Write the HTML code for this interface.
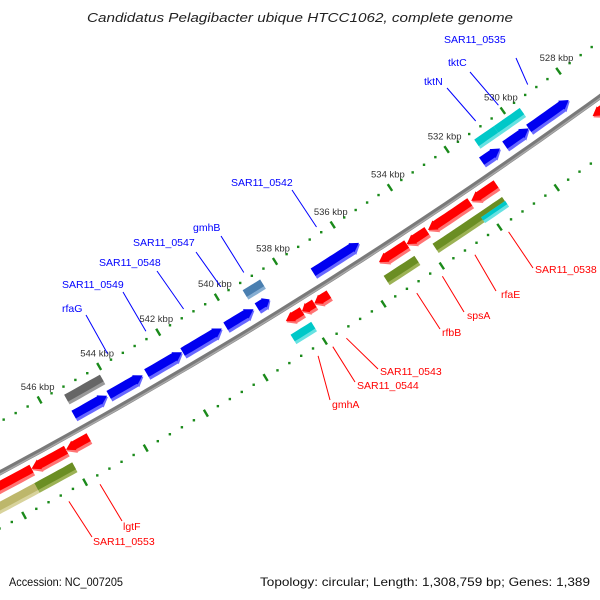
<!DOCTYPE html>
<html><head><meta charset="utf-8"><style>
html,body{margin:0;padding:0;background:#fff;}
svg{display:block;font-family:"Liberation Sans","DejaVu Sans",sans-serif;}
</style></head><body>
<svg id="map" width="600" height="600" viewBox="0 0 600 600">
<text x="300" y="22" text-anchor="middle" font-size="13" font-style="italic" fill="#222" textLength="426" lengthAdjust="spacingAndGlyphs">Candidatus Pelagibacter ubique HTCC1062, complete genome</text>
<text x="9" y="586" font-size="12" fill="#111" textLength="114" lengthAdjust="spacingAndGlyphs">Accession: NC_007205</text>
<text x="590" y="586" text-anchor="end" font-size="12" fill="#111" textLength="330" lengthAdjust="spacingAndGlyphs">Topology: circular; Length: 1,308,759 bp; Genes: 1,389</text>
<g id="g-track"></g><g id="g-genes"></g><g id="g-labels"></g>
</svg>
<script>
// ---- data ----
const tickKbp = [528,530,532,534,536,538,540,542,544,546];
const geneNames  = ["SAR11_0535","g0536","g0537","tktC","tktN","SAR11_0542","g0546","gmhB","SAR11_0547","SAR11_0548","SAR11_0549","rfaG","g0552b","g0552g",
  "g0534r","g0539r","rfaE","spsA","g0541r","SAR11_0543","SAR11_0544","g0545r","lgtF","g0555r","g0556r",
  "g0540o","SAR11_0538","rfbB","gmhA","SAR11_0553","g0554k"];
const geneStart  = [528.25,529.68,530.70,529.55,530.48,535.64,538.72,538.65,539.27,540.35,541.70,543.03,544.22,544.10,
  526.00,531.38,532.30,533.80,534.50,537.18,537.68,538.10,545.28,546.03,547.17,
  531.45,531.44,534.50,538.04,546.05,547.30];
const geneEnd    = [529.68,530.53,531.35,530.48,531.17,537.23,539.15,539.25,540.22,541.68,542.90,544.17,545.34,545.30,
  527.96,532.25,533.76,534.50,535.46,537.68,538.10,538.65,546.03,547.17,549.50,
  533.87,532.28,535.56,538.74,547.30,549.50];
const geneStrand = [1,1,1,1,1,1,1,1,1,1,1,1,1,1, -1,-1,-1,-1,-1,-1,-1,-1,-1,-1,-1, -1,-1,-1,-1,-1,-1];
const geneRow    = [0,0,0,1,1,0,0,1,0,0,0,0,0,1, 0,0,0,0,0,0,0,0,0,0,0, 1,2,1,1,1,1];
const geneKind   = ["blue","blue","blue","cyan","cyan","blue","blue","steel","blue","blue","blue","blue","blue","grey",
  "red","red","red","red","red","red","red","red","red","red","red",
  "olive","cyan","olive","cyan","olive","khaki"];
const labelGenes = ["SAR11_0535","tktC","tktN","SAR11_0542","gmhB","SAR11_0547","SAR11_0548","SAR11_0549","rfaG",
  "SAR11_0538","rfaE","spsA","rfbB","SAR11_0543","SAR11_0544","gmhA","lgtF","SAR11_0553"];
const labelText = ["SAR11_0535","tktC","tktN","SAR11_0542","gmhB","SAR11_0547","SAR11_0548","SAR11_0549","rfaG",
  "SAR11_0538","rfaE","spsA","rfbB","SAR11_0543","SAR11_0544","gmhA","lgtF","SAR11_0553"];
const labelX = [444,448,424,231,193,133,99,62,62, 535,501,467,442,380,357,332,123,93];
const labelY = [43,66,85,186,231,246,266,288,312, 273,298,319,336,375,389,408,530,545];
const leadX  = [516,470,447,292,221,196,157,123,86, 533,496,464,440,378,355,330,122,92];
const leadY  = [58,72,88,190,236,252,271,292,315, 268,291,312,329,369,382,400,521,537];

// ---- geometry ----
const CX=-2470, CY=-4135, R_BB=5228, R_OUT=5183, R_IN=5277;
const K0=530, A0=55.0, DEG_PER_KBP=0.3775;
function ang(k){return (A0+(k-K0)*DEG_PER_KBP)*Math.PI/180;}
function pt(k,r){const a=ang(k);return [CX+r*Math.cos(a), CY+r*Math.sin(a)];}
const NS="http://www.w3.org/2000/svg";
function mk(tag,attrs,parent){const e=document.createElementNS(NS,tag);for(const k in attrs)e.setAttribute(k,attrs[k]);parent.appendChild(e);return e;}
function arc(k1,k2,r,n){const a=[];for(let i=0;i<=n;i++){a.push(pt(k1+(k2-k1)*i/n,r));}return a;}
const P=a=>a.map(p=>p[0].toFixed(1)+","+p[1].toFixed(1)).join(" ");

const gt=document.getElementById("g-track"), gg=document.getElementById("g-genes"), gl=document.getElementById("g-labels");

// backbone
let d="";arc(525,550,R_BB,60).forEach((p,i)=>{d+=(i?"L":"M")+p[0].toFixed(1)+" "+p[1].toFixed(1);});
const bb=mk("path",{d:d,fill:"none",stroke:"#7a7a7a","stroke-width":5},gt);


const bb2=mk("path",{d:d,fill:"none",stroke:"#a8a8a8","stroke-width":1.5,transform:"translate(0.6,1.2)"},gt);



// tick tracks
[R_OUT,R_IN].forEach((r,ti)=>{
  for(let i=0;i<=60;i++){
    const k=526+i*0.4;
    if(i%5===0){
      const a=pt(k,r-4),b=pt(k,r+4);
      const t=mk("line",{x1:a[0],y1:a[1],x2:b[0],y2:b[1],stroke:"#1a8a1a","stroke-width":2.4},gt);
      
      
    } else {
      const p=pt(k,r);
      const t=mk("rect",{x:p[0]-1.2,y:p[1]-1.2,width:2.4,height:2.4,fill:"#1a8a1a"},gt);
      
      
    }
  }
});
tickKbp.forEach(k=>{
  const p=pt(k,R_OUT);
  const t=mk("text",{x:p[0]-2,y:p[1]-10,"text-anchor":"middle","font-size":"9.5",fill:"#333"},gt);
  t.textContent=k+" kbp";
  
  
});

// genes
const COL={blue:["#0000f0","#6868ff"],red:["#ff0000","#ff7474"],cyan:["#00c8c8","#66e2e2"],
  olive:["#6b8e23","#9cb255"],steel:["#4a7fb0","#86aed2"],grey:["#666666","#9a9a9a"],khaki:["#bdb76b","#d8d39c"]};
function rowR(strand,row){
  if(strand>0) return row===0?5214:5196;
  if(row===0) return 5241;
  if(row===1) return 5259;
  return 5262;
}
function shape(k1,k2,rc,h,strand,arrow){
  const n=Math.max(2,Math.round((k2-k1)*6));
  if(!arrow){return arc(k1,k2,rc-h/2,n).concat(arc(k2,k1,rc+h/2,n));}
  const head=Math.min(0.26,(k2-k1)*0.45);
  if(strand>0){
    const hk=k1+head;
    return [pt(k1,rc)].concat([pt(hk,rc-h/2-1)],arc(hk,k2,rc-h/2,n),arc(k2,hk,rc+h/2,n),[pt(hk,rc+h/2+1)]);
  } else {
    const hk=k2-head;
    return arc(k1,hk,rc-h/2,n).concat([pt(hk,rc-h/2-1),pt(k2,rc),pt(hk,rc+h/2+1)],arc(hk,k1,rc+h/2,n));
  }
}
for(let i=0;i<geneNames.length;i++){
  const s=geneStrand[i],row=geneRow[i],kind=geneKind[i];
  const arrow=(kind==="blue"||kind==="red");
  const rc=rowR(s,row), h=(row===2?7:(arrow?12:11));
  const g=mk("g",{},gg);
  
  
  const c=COL[kind];
  mk("polygon",{points:P(shape(geneStart[i],geneEnd[i],rc,h,s,arrow)),fill:c[1]},g);
  mk("polygon",{points:P(shape(geneStart[i],geneEnd[i],rc-1.6,h-3.2,s,arrow)),fill:c[0]},g);
}

// labels
for(let j=0;j<labelGenes.length;j++){
  const i=geneNames.indexOf(labelGenes[j]);
  const s=geneStrand[i];
  const mid=(geneStart[i]+geneEnd[i])/2;
  const e=pt(mid,s>0?5176:5286);
  const col=s>0?"#0000ff":"#ff0000";
  const ln=mk("line",{x1:leadX[j],y1:leadY[j],x2:e[0].toFixed(1),y2:e[1].toFixed(1),stroke:col,"stroke-width":1},gl);
  
  
  const t=mk("text",{x:labelX[j],y:labelY[j],"font-size":"10.5",fill:col},gl);
  t.textContent=labelText[j];
  
  
}
</script>
</body></html>
